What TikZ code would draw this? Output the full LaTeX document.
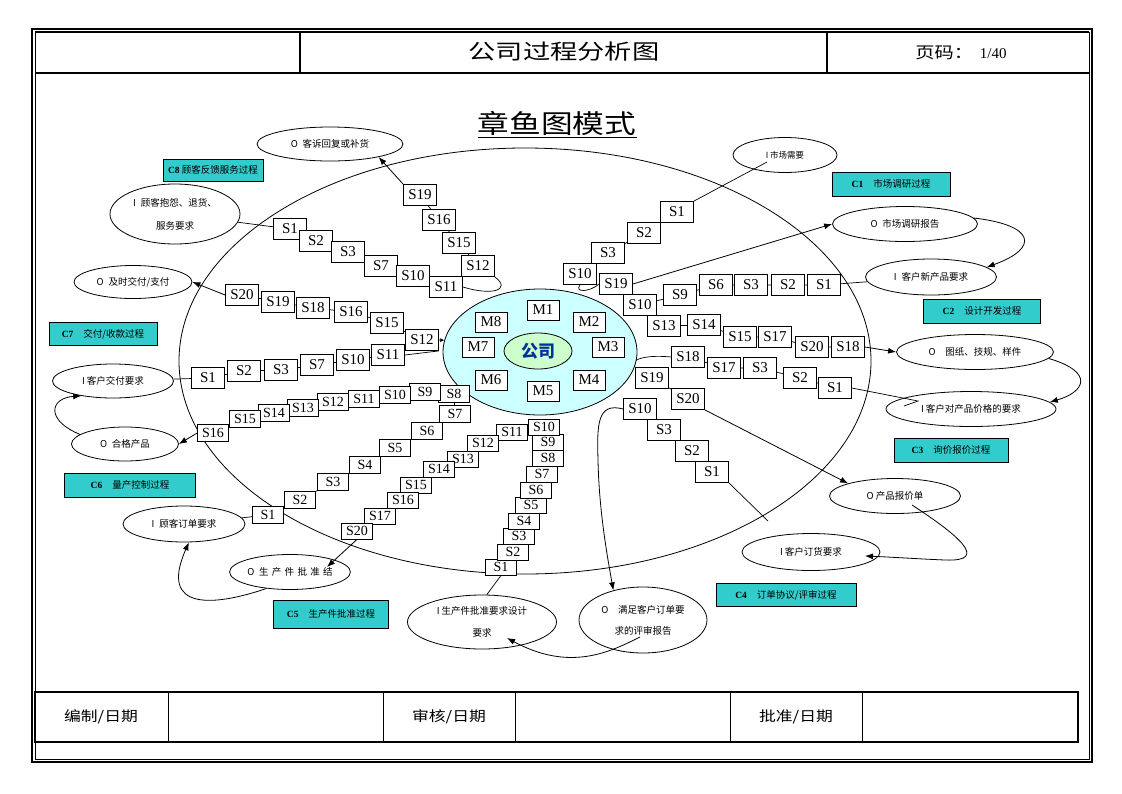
\documentclass[tikz,border=0pt]{standalone}
\usepackage{fontspec}
\setmainfont{Liberation Serif}
\newfontfamily\cjk{Noto Sans CJK SC}
\usetikzlibrary{arrows.meta}
\usetikzlibrary{shapes.geometric}
\usetikzlibrary{backgrounds}
\usetikzlibrary{calc}
\definecolor{proccyan}{RGB}{51,204,204}
\definecolor{orgcyan}{RGB}{204,255,255}
\definecolor{cogreen}{RGB}{204,255,204}
\definecolor{coblue}{RGB}{0,51,153}
\tikzset{
      sbox/.style={draw=black, fill=white, line width=0.8, inner sep=0,
            minimum width=33, minimum height=21, font=\fontsize{15}{15}\selectfont},
      sbx/.style={sbox, minimum width=31, minimum height=16, font=\fontsize{14}{14}\selectfont},
      mbox/.style={draw=black, fill=white, line width=0.8, inner sep=0,
            minimum width=32, minimum height=20, font=\fontsize{15}{15}\selectfont},
      io/.style={ellipse, draw=black, line width=0.8, inner sep=0, align=center,
            font=\cjk\fontsize{9.5}{23}\selectfont},
      proc/.style={rectangle, draw=black, fill=proccyan, line width=0.8, inner sep=0,
            font=\fontsize{9.5}{10}\selectfont},
      link/.style={draw=black, line width=0.7},
      flow/.style={draw=black, line width=0.8, -{Latex[length=8pt,width=6pt]}},
      tick/.style={draw=black, line width=0.7, -{Latex[length=4pt,width=4pt]}},
}

\begin{document}
\begin{tikzpicture}[x=1pt, y=-1pt]
        \useasboundingbox (0,0) rectangle (1122,793);

        % Frame, header and footer
        \draw[line width=1.2] (32,29) rectangle (1092,762);
        \draw[line width=0.6] (35,32) rectangle (1089,759);
        \draw[line width=1.6] (35,32) -- (1089,32);
        \draw[line width=1.6] (35,73) -- (1089,73);
        \draw[line width=1.2] (300,32) -- (300,73);
        \draw[line width=1.2] (827,32) -- (827,73);
        \draw[line width=1.2] (35,692) rectangle (1078,742);
        \draw[line width=0.8] (168,692) -- (168,742);
        \draw[line width=0.8] (383,692) -- (383,742);
        \draw[line width=0.8] (515,692) -- (515,742);
        \draw[line width=0.8] (730,692) -- (730,742);
        \draw[line width=0.8] (862,692) -- (862,742);

        \node (htitle) at (564,52) {\cjk\addfontfeature{FakeStretch=1.3}\fontsize{21}{21}\selectfont 公司过程分析图};
        \node (hpage) at (961,53) {{\cjk\addfontfeature{FakeStretch=1.2}\fontsize{16}{16}\selectfont 页码：}\hspace{7pt}{\fontsize{15}{15}\selectfont 1/40}};
        \node (fmake) at (101,717) {\cjk\addfontfeature{FakeStretch=1.2}\fontsize{14}{14}\selectfont 编制/日期};
        \node (fcheck) at (449,717) {\cjk\addfontfeature{FakeStretch=1.2}\fontsize{14}{14}\selectfont 审核/日期};
        \node (fappr) at (796,717) {\cjk\addfontfeature{FakeStretch=1.2}\fontsize{14}{14}\selectfont 批准/日期};

        \node[inner sep=0] (title) at (557,123) {\cjk\addfontfeature{FakeStretch=1.22}\fontsize{26}{26}\selectfont 章鱼图模式};
        \draw[line width=1] ($(title.base west)+(0,4)$) -- ($(title.base east)+(0,4)$);

        % Company in the middle
        \node[ellipse, draw=black, fill=orgcyan, line width=0.8, minimum width=194, minimum height=126] (org) at (540,352) {};
        \node[ellipse, draw=black, fill=cogreen, line width=0.8, minimum width=68, minimum height=36,
              text=coblue, font=\cjk\bfseries\fontsize{17}{17}\selectfont] (co) at (538,351) {公司};
        \node[mbox] (m1) at (543,310) {M1};
        \node[mbox] (m2) at (589,322) {M2};
        \node[mbox] (m3) at (608,347) {M3};
        \node[mbox] (m4) at (589,380) {M4};
        \node[mbox] (m5) at (543,391) {M5};
        \node[mbox] (m6) at (491,380) {M6};
        \node[mbox] (m7) at (478,347) {M7};
        \node[mbox] (m8) at (491,322) {M8};

        % Process names
        \node[proc, minimum width=100, minimum height=22] (c8lbl) at (213,170) {\textbf{C8} {\cjk 顾客反馈服务过程}};
        \node[proc, minimum width=118, minimum height=24] (c1lbl) at (891,184) {\textbf{C1}\hspace{10pt}{\cjk 市场调研过程}};
        \node[proc, minimum width=117, minimum height=24] (c2lbl) at (982,311) {\textbf{C2}\hspace{10pt}{\cjk 设计开发过程}};
        \node[proc, minimum width=108, minimum height=23] (c7lbl) at (103,334) {\textbf{C7}\hspace{10pt}{\cjk 交付/收款过程}};
        \node[proc, minimum width=114, minimum height=24] (c3lbl) at (951,450) {\textbf{C3}\hspace{10pt}{\cjk 询价报价过程}};
        \node[proc, minimum width=131, minimum height=24] (c6lbl) at (130,485) {\textbf{C6}\hspace{10pt}{\cjk 量产控制过程}};
        \node[proc, minimum width=115, minimum height=28] (c5lbl) at (331,614) {\textbf{C5}\hspace{10pt}{\cjk 生产件批准过程}};
        \node[proc, minimum width=140, minimum height=23] (c4lbl) at (786,595) {\textbf{C4}\hspace{10pt}{\cjk 订单协议/评审过程}};

        % Inputs and outputs
        \node[io, minimum width=146, minimum height=34] (o8) at (330,144) {O\enspace 客诉回复或补货};
        \node[io, minimum width=130, minimum height=60] (i8) at (175,214) {I\enspace 顾客抱怨、退货、\\服务要求};
        \node[io, minimum width=118, minimum height=33] (o7) at (133,282) {O\enspace 及时交付/支付};
        \node[io, minimum width=121, minimum height=34] (i7) at (113,381) {I 客户交付要求};
        \node[io, minimum width=107, minimum height=34] (o6) at (125,444) {O\enspace 合格产品};
        \node[io, minimum width=122, minimum height=36] (i6) at (184,524) {I\enspace 顾客订单要求};
        \node[io, minimum width=117, minimum height=35] (o5) at (290,572) {\addfontfeature{LetterSpace=35}O\enspace 生产件批准结};
        \node[io, minimum width=149, minimum height=54, font=\cjk\fontsize{9.5}{22}\selectfont] (i5) at (482,622) {I 生产件批准要求设计\\要求};
        \node[io, minimum width=128, minimum height=66, font=\cjk\fontsize{9.5}{21}\selectfont] (o4) at (643,620) {O\quad 满足客户订单要\\求的评审报告};
        \node[io, minimum width=138, minimum height=37] (i4) at (811,552) {I 客户订货要求};
        \node[io, minimum width=131, minimum height=35] (o3) at (895,496) {O 产品报价单};
        \node[io, minimum width=170, minimum height=35] (i3) at (971,409) {I 客户对产品价格的要求};
        \node[io, minimum width=157, minimum height=35] (o2) at (975,352) {O\quad 图纸、技规、样件};
        \node[io, minimum width=131, minimum height=36] (i2) at (931,277) {I\enspace 客户新产品要求};
        \node[io, minimum width=145, minimum height=35] (o1) at (905,224) {O\enspace 市场调研报告};
        \node[io, minimum width=104, minimum height=35, font=\cjk\fontsize{8.5}{9}\selectfont] (i1) at (785,155) {I 市场需要};

        % C8 steps
        \node[sbox] (c8s1) at (290,229) {S1};
        \node[sbox] (c8s2) at (316,241) {S2};
        \node[sbox] (c8s3) at (348,252) {S3};
        \node[sbox] (c8s7) at (381,266) {S7};
        \node[sbox] (c8s10) at (413,276) {S10};
        \node[sbox] (c8s11) at (446,287) {S11};
        \node[sbox] (c8s12) at (478,266) {S12};
        \node[sbox] (c8s15) at (459,243) {S15};
        \node[sbox] (c8s16) at (439,220) {S16};
        \node[sbox] (c8s19) at (420,195) {S19};

        % C7 steps
        \node[sbox] (c7s20) at (242,295) {S20};
        \node[sbox] (c7s19) at (278,302) {S19};
        \node[sbox] (c7s18) at (313,308) {S18};
        \node[sbox] (c7s16) at (351,312) {S16};
        \node[sbox] (c7s15) at (387,323) {S15};
        \node[sbox] (c7s12) at (422,340) {S12};
        \node[sbox] (c7s11) at (388,355) {S11};
        \node[sbox] (c7s10) at (353,360) {S10};
        \node[sbox] (c7s7) at (317,365) {S7};
        \node[sbox] (c7s3) at (281,370) {S3};
        \node[sbox] (c7s2) at (244,371) {S2};
        \node[sbox] (c7s1) at (208,378) {S1};

        % C6 steps
        \node[sbx, minimum height=17] (c6s1) at (268,515) {S1};
        \node[sbx, minimum height=17] (c6s2) at (300,500) {S2};
        \node[sbx, minimum height=17] (c6s3) at (333,482) {S3};
        \node[sbx, minimum height=17] (c6s4) at (365,465) {S4};
        \node[sbx, minimum height=17] (c6s5) at (395,448) {S5};
        \node[sbx, minimum height=17] (c6s6) at (427,431) {S6};
        \node[sbx, minimum height=17] (c6s7) at (455,414) {S7};
        \node[sbx, minimum height=17] (c6s8) at (454,394) {S8};
        \node[sbx, minimum height=17] (c6s9) at (425,392) {S9};
        \node[sbx, minimum height=17] (c6s10) at (395,395) {S10};
        \node[sbx, minimum height=17] (c6s11) at (364,399) {S11};
        \node[sbx, minimum height=17] (c6s12) at (333,402) {S12};
        \node[sbx, minimum height=17] (c6s13) at (303,408) {S13};
        \node[sbx, minimum height=17] (c6s14) at (274,413) {S14};
        \node[sbx, minimum height=17] (c6s15) at (245,419) {S15};
        \node[sbx, minimum height=17] (c6s16) at (213,433) {S16};

        % C5 steps
        \node[sbx] (c5s1) at (501,567) {S1};
        \node[sbx] (c5s2) at (513,552) {S2};
        \node[sbx] (c5s3) at (519,536) {S3};
        \node[sbx] (c5s4) at (524,521) {S4};
        \node[sbx] (c5s5) at (531,505) {S5};
        \node[sbx] (c5s6) at (536,490) {S6};
        \node[sbx] (c5s7) at (542,474) {S7};
        \node[sbx] (c5s8) at (548,458) {S8};
        \node[sbx] (c5s9) at (548,442) {S9};
        \node[sbx] (c5s10) at (544,427) {S10};
        \node[sbx] (c5s11) at (512,432) {S11};
        \node[sbx] (c5s12) at (483,443) {S12};
        \node[sbx] (c5s13) at (463,459) {S13};
        \node[sbx] (c5s14) at (439,469) {S14};
        \node[sbx] (c5s15) at (416,485) {S15};
        \node[sbx] (c5s16) at (403,500) {S16};
        \node[sbx] (c5s17) at (380,516) {S17};
        \node[sbx] (c5s20) at (357,531) {S20};

        % C4 steps
        \node[sbox] (c4s10) at (640,409) {S10};
        \node[sbox] (c4s3) at (664,430) {S3};
        \node[sbox] (c4s2) at (692,451) {S2};
        \node[sbox] (c4s1) at (712,472) {S1};

        % C3 steps
        \node[sbox] (c3s1) at (835,388) {S1};
        \node[sbox] (c3s2) at (800,378) {S2};
        \node[sbox] (c3s3) at (760,368) {S3};
        \node[sbox] (c3s17) at (724,368) {S17};
        \node[sbox] (c3s18) at (688,357) {S18};
        \node[sbox] (c3s19) at (652,378) {S19};
        \node[sbox] (c3s20) at (688,399) {S20};

        % C2 steps
        \node[sbox] (c2s1) at (824,285) {S1};
        \node[sbox] (c2s2) at (788,285) {S2};
        \node[sbox] (c2s3) at (751,285) {S3};
        \node[sbox] (c2s6) at (716,285) {S6};
        \node[sbox] (c2s9) at (680,295) {S9};
        \node[sbox] (c2s10) at (640,305) {S10};
        \node[sbox] (c2s13) at (664,326) {S13};
        \node[sbox] (c2s14) at (704,325) {S14};
        \node[sbox] (c2s15) at (740,337) {S15};
        \node[sbox] (c2s17) at (775,337) {S17};
        \node[sbox] (c2s20) at (812,347) {S20};
        \node[sbox] (c2s18) at (848,347) {S18};

        % C1 steps
        \node[sbox] (c1s1) at (677,212) {S1};
        \node[sbox] (c1s2) at (644,233) {S2};
        \node[sbox] (c1s3) at (608,253) {S3};
        \node[sbox] (c1s10) at (580,274) {S10};
        \node[sbox] (c1s19) at (616,284) {S19};

        \coordinate (o5tip) at ($(o5.center)+(37,-5)$);
        \coordinate (i4end) at (768,521);

        \begin{pgfonlayer}{background}
        % The octopus body
        \draw[line width=0.8] (525,361) ellipse [x radius=346, y radius=213];

        % C8 links
        \draw[link] (i8) -- (c8s1) -- (c8s2) -- (c8s3) -- (c8s7) -- (c8s10) -- (c8s11);
        \draw[link] (c8s11.east) .. controls (492,296) and (512,290) .. (c8s12.south east);
        \draw[link] (c8s12) -- (c8s15) -- (c8s16) -- (c8s19);
        \draw[flow] (c8s19.north west) -- (o8.-15);

        % C7 links
        \draw[link] (i7) -- (c7s1) -- (c7s2) -- (c7s3) -- (c7s7) -- (c7s10) -- (c7s11);
        \draw[link] (c7s11.east) -- (c7s12.south east);
        \draw[link] (c7s12) -- (c7s15) -- (c7s16) -- (c7s18) -- (c7s19) -- (c7s20);
        \draw[tick] (c7s12.east) -- (org.173);
        \draw[flow] (c7s20.west) -- (o7.east);

        % C6 links
        \draw[link] (i6) -- (c6s1) -- (c6s2) -- (c6s3) -- (c6s4) -- (c6s5) -- (c6s6) -- (c6s7) -- (c6s8);
        \draw[link] (c6s8) -- (c6s9) -- (c6s10) -- (c6s11) -- (c6s12) -- (c6s13) -- (c6s14) -- (c6s15) -- (c6s16);
        \draw[flow] (c6s16.west) -- (o6.east);
        \draw[flow] (o6.168) .. controls (45,420) and (50,398) .. (i7.205);

        % C5 links
        \draw[link] (i5.80) -- (c5s1.south);
        \draw[link] (c5s1) -- (c5s2) -- (c5s3) -- (c5s4) -- (c5s5) -- (c5s6) -- (c5s7) -- (c5s8) -- (c5s9) -- (c5s10);
        \draw[link] (c5s10) -- (c5s11) -- (c5s12) -- (c5s13) -- (c5s14) -- (c5s15) -- (c5s16) -- (c5s17) -- (c5s20);
        \draw[flow] (c5s20.south) -- (o5tip);
        \draw[flow] (o5.-145) .. controls (215,606) and (158,612) .. (i6.-75);

        % C4 links
        \draw[link] (i4end) -- (c4s1.south east);
        \draw[link] (c4s1) -- (c4s2) -- (c4s3) -- (c4s10);
        \draw[flow] (c4s10.west) .. controls (597,402) and (597,425) .. (598,460)
              .. controls (599,510) and (607,555) .. (o4.135);
        \draw[flow] ($(o4.center)+(-3,17)$) .. controls (610,652) and (570,672) .. ($(i5.center)+(25,16)$);

        % C3 links
        \draw[link] ($(i3.center)+(-67,-3)$) -- ($(i3.center)+(-53,-8)$) -- (c3s1.east);
        \draw[link] (c3s1) -- (c3s2) -- (c3s3) -- (c3s17) -- (c3s18);
        \draw[link] (c3s18.west) .. controls (640,354) and (628,362) .. (c3s19.north west);
        \draw[link] (c3s19) -- (c3s20);
        \draw[flow] (c3s20.south east) -- (o3.165);
        \draw[flow] ($(o3.center)+(17,9)$) .. controls (955,533) and (992,562) .. (945,560)
              .. controls (920,559) and (890,557) .. ($(i4.center)+(54,4)$);

        % C2 links
        \draw[link] (i2) -- (c2s1) -- (c2s2) -- (c2s3) -- (c2s6) -- (c2s9) -- (c2s10);
        \draw[link] (c2s10) -- (c2s13) -- (c2s14) -- (c2s15) -- (c2s17) -- (c2s20) -- (c2s18);
        \draw[flow] (c2s18.east) -- (o2.west);
        \draw[flow] (o2.-5) .. controls (1095,372) and (1085,392) .. (i3.5);

        % C1 links
        \draw[link] ($(i1.center)+(-18,7)$) -- (c1s1.north east);
        \draw[link] (c1s1) -- (c1s2) -- (c1s3) -- (c1s10);
        \draw[link] (c1s10.south) .. controls (574,293) and (590,292) .. (c1s19.west);
        \draw[flow] (c1s19.east) -- (o1.west);
        \draw[flow] (o1.5) .. controls (1035,225) and (1040,248) .. (i2.10);
        \end{pgfonlayer}

    \end{tikzpicture}
\end{document}
